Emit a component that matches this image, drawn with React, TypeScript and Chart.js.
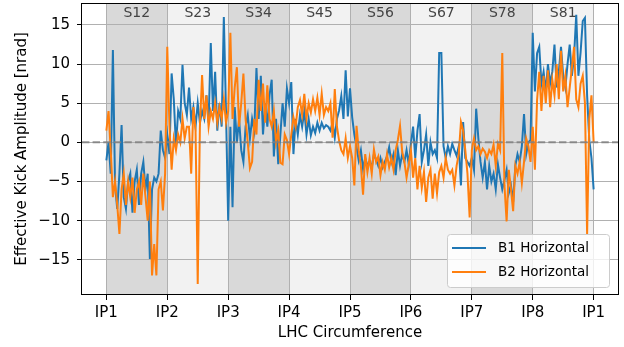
import React, { useEffect, useRef } from "react";
import { Chart, registerables } from "chart.js";

Chart.register(...registerables);

const ipLabels = ["IP1", "IP2", "IP3", "IP4", "IP5", "IP6", "IP7", "IP8", "IP1"];
const sectorLabels = ["S12", "S23", "S34", "S45", "S56", "S67", "S78", "S81"];
const yTicks = [-15, -10, -5, 0, 5, 10, 15];
const seriesNames = ["B1 Horizontal", "B2 Horizontal"];

// B1 horizontal, per sector
const b1S12 = [-2.3, 0, -4, 11.8, -5.5, -8.5, -4, 2.2, -7, -8.5, -5, -4, -9, -5, -3.5, -8, -4, -2.5, -6, -4, -14.9, -6, -4.5, -5, -4, 1.5, -1, -2];
const b1S23 = [1, -1.5, 8.8, 5.5, -0.5, 4, 3, 9.9, 5, 3.5, 7, 3, 4.5, 2, 5, 2.5, 4, 3, 6, 2.5, 12.7, 4, 9, 1.5, 5, 2, 16, 4];
const b1S34 = [-10, 2, -8.3, 4.5, 0, 3, -1, -2.5, 2, 3.5, 0.5, 3, 1.5, 9.5, 3, 8.5, 1, 5, 2, 6, 8, -1.8, 3, -2.8, 1, 5, 2, 6.9];
const b1S45 = [5, 7.7, -1.5, 3, 1, 3.5, 2, 4, 1, 3, 0.9, 2, 1.2, 2.5, 1.5, 2.5, 1.8, 2.2, 2, 1.5, 2.5, 0.6, 3, 4.1, 5.9, 3, 9.2, 3.3];
const b1S56 = [6.9, 3.2, 1, -0.6, -2.3, -1, -3.4, -2, -3, -2.5, -3.2, -1.5, -2.2, -3, -2, -3.2, -2.5, -1.8, -0.6, -2.5, -1.5, -4.2, -1, -3, -1.5, -2.5, -1, -2.8];
const b1S67 = [-0.2, 2, -2, 1.5, 3.6, -2.5, -1, 1, -3, 0, -1.5, -1, -2, 11.4, 11.4, -0.5, -2, -0.5, -1.5, -0.2, -1, -1.7, -0.5, -5.5, 2.6, -2, -2.5, -3];
const b1S78 = [-2, -3.5, 4.3, 0.5, -2.5, -4.5, -2.5, -6, -3, -5, -4, -6, -2.8, -4.5, -6, -4.8, -3.5, -6.5, -5.5, -7.6, -3, -1.5, -2.5, -0.5, 3.6, -1.5, 0, 0.3];
const b1S81 = [14, 6.5, 11.4, 12.2, 7.5, 9, 6.5, 10, 7.5, 9, 12.5, 7, 9, 12.2, 8.5, 7, 10, 12.5, 8.5, 11, 16.3, 8.5, 11.5, 15.5, 15.9, 6, 0.3, -2];
const b1End = -6;

// B2 horizontal, per sector
const b2S12 = [1.5, 4, -1, -7, -5, -8, -11.7, -6, -4, -8, -5, -7, -4.5, -9, -6, -5, -8, -4, -7, -10, -5, -17, -13, -17, -6, -5, -8.7, -4];
const b2S23 = [12.2, 2, -3.5, 0.5, -1, 1, 0, 3, 0.5, 2, 2, -4, 4.5, 1.5, -18.1, 2, 8.6, 3, 6, 2, 4, 3, 5, 2.5, 4.5, 3, 5.5, 2.5];
const b2S34 = [4, 14, 3, 7, 9.6, 2, 5, 8.8, 3, 0, -3.3, -2.5, 3, 1, 8, 4, 7.5, 2.5, 7.3, 3, 2, 4, 0, 1.5, -2.6, -2.8, 1, 0.3];
const b2S45 = [-1.5, 1, 3.2, 2, 4.5, 5.4, 3.5, 6.2, 3, 5, 3.8, 5.5, 4, 5.7, 3.5, 6.2, 3.5, 4.5, 4, 5, 0.6, 6.8, 2, 0.2, -1, -1.5, 0.5, -2];
const b2S56 = [-0.5, -2, -5.5, 2.1, -1, -3, -6.7, -1.5, -3.8, -2, -4, -0.9, -2.5, -1.8, -4.2, -2.5, -3.5, -1.5, -3.2, -2, -3.5, -1, 0.3, 2.1, -1.2, -2.5, -4.5, -2.8];
const b2S67 = [-1, -4.5, -2, -6, -3, -5.8, -3.8, -7.6, -4.5, -3.5, -7.2, -4, -6.5, -3.8, -3, -4.5, -2, -3.5, -4, -3.5, -5.5, -3, -1.5, 2.6, 1.5, -1, -4, -9.6];
const b2S78 = [-1, 0.5, -1, -0.5, -1.5, -0.8, -1.2, -2, -1, -1.5, -0.3, -3, -0.2, -1, 11.4, -5.5, -10.1, -3.5, -6, -8.8, -3, -4, -2.5, -5.2, -2.5, 0.5, -0.5, -2.5];
const b2S81 = [2, -3.5, 5.4, 9, 4, 8.5, 5, 9.2, 4.5, 8, 6, 10, 5.5, 11.7, 6.5, 8.5, 4.5, 7, 9.5, 12.2, 5.5, 4.5, 7.5, 8.5, 5, -11.7, 3, 6];
const b2End = 0;

const b1Sectors = [b1S12, b1S23, b1S34, b1S45, b1S56, b1S67, b1S78, b1S81];
const b2Sectors = [b2S12, b2S23, b2S34, b2S45, b2S56, b2S67, b2S78, b2S81];

function buildSeries(sectors: number[][], endValue: number) {
  const pts: { x: number; y: number }[] = [];
  sectors.forEach((vals, s) => {
    vals.forEach((v, j) => pts.push({ x: s + j / vals.length, y: v }));
  });
  pts.push({ x: sectors.length, y: endValue });
  return pts;
}

const FONT = "'DejaVu Sans', sans-serif";
const BLUE = "#1f77b4";
const ORANGE = "#ff7f0e";

const decorPlugin = {
  id: "decor",
  beforeDraw(chart: any) {
    const { ctx, chartArea: a, scales } = chart;
    const x = scales.x;
    ctx.save();
    for (let i = 0; i < sectorLabels.length; i++) {
      const x0 = x.getPixelForValue(i);
      const x1 = x.getPixelForValue(i + 1);
      ctx.fillStyle = i % 2 === 0 ? "#d9d9d9" : "#f2f2f2";
      ctx.fillRect(x0, a.top, x1 - x0, a.bottom - a.top);
    }
    ctx.restore();
  },
  afterDatasetsDraw(chart: any) {
    const { ctx, chartArea: a, scales } = chart;
    const x = scales.x;
    const y = scales.y;
    ctx.save();
    ctx.beginPath();
    ctx.rect(a.left, a.top, a.right - a.left, a.bottom - a.top);
    ctx.clip();
    // zero line
    const y0 = y.getPixelForValue(0);
    ctx.strokeStyle = "rgba(128,128,128,0.85)";
    ctx.lineWidth = 2;
    ctx.setLineDash([7.4, 3.2]);
    ctx.beginPath();
    ctx.moveTo(a.left, y0);
    ctx.lineTo(a.right, y0);
    ctx.stroke();
    ctx.setLineDash([]);
    // sector labels
    ctx.fillStyle = "#444444";
    ctx.font = `14px ${FONT}`;
    ctx.textAlign = "center";
    ctx.textBaseline = "middle";
    for (let i = 0; i < sectorLabels.length; i++) {
      const xc = (x.getPixelForValue(i) + x.getPixelForValue(i + 1)) / 2;
      ctx.fillText(sectorLabels[i], xc, a.top + 10);
    }
    ctx.restore();
    // frame
    ctx.save();
    ctx.strokeStyle = "#000";
    ctx.lineWidth = 1;
    ctx.strokeRect(Math.round(a.left) - 0.5, Math.round(a.top) + 0.5, Math.round(a.right - a.left) + 1, Math.round(a.bottom - a.top) - 1);
    ctx.restore();
  },
  afterDraw(chart: any) {
    const { ctx, chartArea: a } = chart;
    ctx.save();
    const bx = a.right - 171;
    const by = a.bottom - 61;
    const bw = 162;
    const bh = 53;
    ctx.beginPath();
    if ((ctx as any).roundRect) (ctx as any).roundRect(bx + 0.5, by + 0.5, bw, bh, 3);
    else ctx.rect(bx + 0.5, by + 0.5, bw, bh);
    ctx.fillStyle = "rgba(255,255,255,0.8)";
    ctx.fill();
    ctx.strokeStyle = "#cccccc";
    ctx.lineWidth = 1;
    ctx.stroke();
    const colors = [BLUE, ORANGE];
    ctx.font = `13.5px ${FONT}`;
    ctx.textAlign = "left";
    ctx.textBaseline = "middle";
    for (let i = 0; i < seriesNames.length; i++) {
      const ly = by + 14 + i * 24;
      ctx.strokeStyle = colors[i];
      ctx.lineWidth = 2;
      ctx.beginPath();
      ctx.moveTo(bx + 5, ly);
      ctx.lineTo(bx + 39, ly);
      ctx.stroke();
      ctx.fillStyle = "#000";
      ctx.fillText(seriesNames[i], bx + 51, ly + 0.5);
    }
    ctx.restore();
  },
};

export default function App() {
  const canvasRef = useRef<HTMLCanvasElement | null>(null);

  useEffect(() => {
    if (!canvasRef.current) return;
    Chart.defaults.font.family = FONT;
    Chart.defaults.color = "#000";
    const chart = new Chart(canvasRef.current, {
      type: "line",
      data: {
        datasets: [
          {
            label: seriesNames[0],
            data: buildSeries(b1Sectors, b1End),
            borderColor: BLUE,
            backgroundColor: BLUE,
            borderWidth: 2,
            pointRadius: 0,
            tension: 0,
            order: 1,
          },
          {
            label: seriesNames[1],
            data: buildSeries(b2Sectors, b2End),
            borderColor: ORANGE,
            backgroundColor: ORANGE,
            borderWidth: 2,
            pointRadius: 0,
            tension: 0,
            order: 0,
          },
        ],
      },
      options: {
        animation: false,
        responsive: false,
        devicePixelRatio: 1,
        parsing: false as any,
        layout: { padding: { left: 0, right: 6, top: 3, bottom: 0 } },
        plugins: {
          legend: { display: false },
          tooltip: { enabled: false },
        },
        scales: {
          x: {
            type: "linear",
            min: -0.4,
            max: 8.4,
            afterBuildTicks: (scale: any) => {
              scale.ticks = ipLabels.map((_, i) => ({ value: i }));
            },
            afterFit: (scale: any) => {
              scale.height = 52;
              scale.paddingLeft = 0;
              scale.paddingRight = 0;
            },
            ticks: {
              callback: (v: any) => ipLabels[Math.round(Number(v))],
              font: { size: 15, family: FONT },
              color: "#000",
              padding: 4,
              maxRotation: 0,
              autoSkip: false,
            },
            grid: { color: "#b0b0b0", lineWidth: 1, tickLength: 5, tickColor: "#000" },
            border: { display: false },
            title: {
              display: true,
              text: "LHC Circumference",
              font: { size: 15, family: FONT },
              color: "#000",
              padding: { top: 0, bottom: 5 },
            },
          },
          y: {
            type: "linear",
            min: -19.5,
            max: 17.8,
            afterBuildTicks: (scale: any) => {
              scale.ticks = yTicks.map((v) => ({ value: v }));
            },
            afterFit: (scale: any) => {
              scale.width = 82;
              scale.paddingTop = 0;
              scale.paddingBottom = 0;
            },
            ticks: {
              callback: (v: any) => {
                const n = Number(v);
                return n < 0 ? "\u2212" + Math.abs(n) : String(n);
              },
              font: { size: 15, family: FONT },
              color: "#000",
              padding: 7,
            },
            grid: { color: "#b0b0b0", lineWidth: 1, tickLength: 5, tickColor: "#000" },
            border: { display: false },
            title: {
              display: true,
              text: "Effective Kick Amplitude [nrad]",
              font: { size: 15, family: FONT },
              color: "#000",
              padding: { top: 13, bottom: 0 },
            },
          },
        },
      },
      plugins: [decorPlugin],
    } as any);
    return () => chart.destroy();
  }, []);

  return (
    <div style={{ position: "fixed", left: 0, top: 0, width: 624, height: 347, background: "#fff" }}>
      <canvas ref={canvasRef} width={624} height={347} style={{ width: 624, height: 347, display: "block" }} />
    </div>
  );
}
